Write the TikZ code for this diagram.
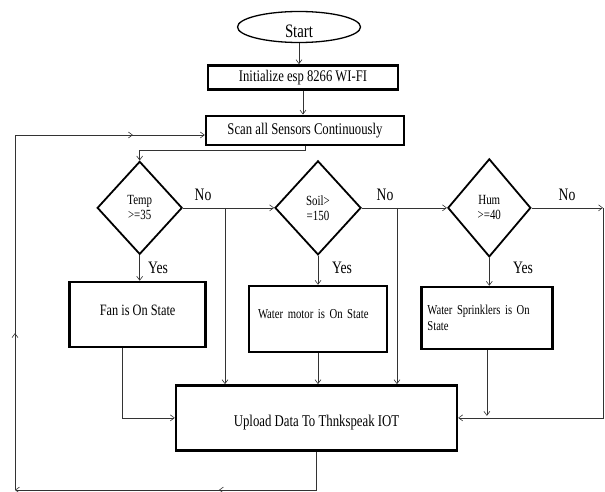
\documentclass[tikz,border=0pt]{standalone}
\usepackage{fontspec}
\setmainfont{Liberation Serif}[FakeStretch=0.78]
\usetikzlibrary{arrows.meta,positioning,shapes.geometric,decorations.markings}
\tikzset{
  term/.style={draw, ellipse, line width=1.3pt, minimum width=123pt, minimum height=31pt, inner sep=0pt, font=\fontsize{19}{21}\selectfont},
  blk/.style={draw, rectangle, line width=2.4pt, align=center, inner sep=2pt},
  dec/.style={draw, diamond, line width=1.8pt, align=center, inner sep=0pt, font=\fontsize{14}{15}\selectfont},
  lbl/.style={inner sep=1pt, font=\fontsize{17.5}{18}\selectfont},
  arr/.style={-{Straight Barb[length=4pt, width=6pt]}, line width=0.6pt, draw=black!80},
  marr/.style={postaction={decorate, decoration={markings, mark=at position #1 with {\arrow{Straight Barb[length=4pt, width=6pt]}}}}},
}
\begin{document}
\begin{tikzpicture}[x=1pt, y=1pt]
\useasboundingbox (0,0) rectangle (605,-492);

\node[term, text height=21pt] (start) at (299,-27) {Start};
\node[blk, below=21pt of start, xshift=4pt, minimum width=190pt, minimum height=24pt, font=\fontsize{16.2}{17}\selectfont] (init) {Initialize esp 8266 WI-FI};
\node[blk, below=24pt of init, xshift=2pt, minimum width=198pt, minimum height=29pt, font=\fontsize{16.3}{17}\selectfont] (scan) {Scan all Sensors Continuously};

\node[dec, below=14pt of scan, xshift=13pt, minimum width=86pt, minimum height=94pt] (soil) {Soil>\\=150};
\node[dec, left=91pt of soil, minimum width=85pt, minimum height=93pt] (temp) {Temp\\>=35};
\node[dec, right=85pt of soil, minimum width=83pt, minimum height=98pt] (hum) {Hum\\>=40};

\node[blk, below=29pt of soil, minimum width=138pt, minimum height=66pt, text width=120pt, text depth=10pt, align=left, font=\fontsize{13.7}{15}\selectfont] (motor) {Water motor is On State};
\node[blk, left=41pt of motor, yshift=4.5pt, minimum width=136pt, minimum height=65pt, text depth=8pt, font=\fontsize{15.8}{17}\selectfont] (fan) {Fan is On State};
\node[blk, right=32pt of motor, yshift=1pt, minimum width=131pt, minimum height=62pt, text width=119pt, align=left, font=\fontsize{13.6}{16}\selectfont] (sprk) {Water Sprinklers is On\\State};

\node[blk, below=31pt of motor, xshift=-1.5pt, minimum width=281pt, minimum height=65pt, text height=20pt, font=\fontsize{16.4}{17}\selectfont] (upload) {Upload Data To Thnkspeak IOT};

\node[lbl] (no1) at (203,-195) {No};
\node[lbl] (no2) at (385,-195) {No};
\node[lbl] (no3) at (567,-195) {No};
\node[lbl] (yes1) at (158,-268) {Yes};
\node[lbl] (yes2) at (342,-268) {Yes};
\node[lbl] (yes3) at (523,-268) {Yes};

\coordinate (colA) at (225,0);
\coordinate (colB) at (397,0);
\coordinate (colR) at (603,0);
\coordinate (dropA) at (temp.east -| colA);
\coordinate (dropB) at (soil.east -| colB);
\coordinate (edgeR) at (hum.east -| colR);
\coordinate (botR) at (316.5,-490);
\coordinate (botL) at (15,-490);
\coordinate (topL) at (15,-135);

\draw[arr] (start.south) -- (start.south |- init.north);
\draw[arr] (init.south) -- (init.south |- scan.north);
\draw[arr] (scan.south) |- ([yshift=10pt]temp.north) -- (temp.north);
\draw[arr] (temp.east) -- (soil.west);
\draw[arr] (soil.east) -- (hum.west);
\draw[arr] (hum.east) -- (edgeR);
\draw[arr] (edgeR) |- (upload.east);
\draw[arr] (dropA) -- (dropA |- upload.north);
\draw[arr] (dropB) -- (dropB |- upload.north);
\draw[arr] (temp.south) -- (temp.south |- fan.north);
\draw[arr] (soil.south) -- (motor.north);
\draw[arr] (hum.south) -- (hum.south |- sprk.north);
\draw[arr] ([xshift=-15pt]fan.south) |- (upload.west);
\draw[arr] (motor.south) -- (motor.south |- upload.north);
\draw[arr] (sprk.south) -- ([yshift=2pt]sprk.south |- upload.east);
\draw[arr, marr=0.4] (upload.south) -- (botR) -- (botL);
\draw[arr, marr=0.288, marr=0.868] (botL) -- (topL) -- (scan.west |- topL);

\end{tikzpicture}
\end{document}
